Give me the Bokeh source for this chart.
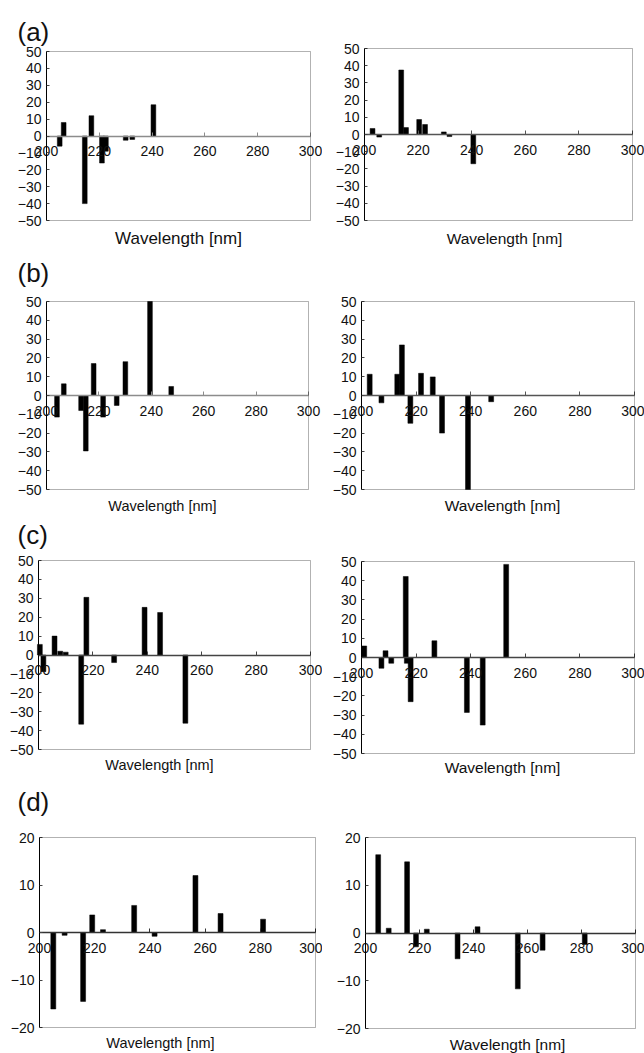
from bokeh.plotting import figure
from bokeh.layouts import column, row
from bokeh.models import LinearAxis, FixedTicker, Range1d, BoxAnnotation, Label
from bokeh.embed import file_html
from bokeh.resources import INLINE

# ---------------- data ----------------
x_ticks = [200, 220, 240, 260, 280, 300]
y_ticks_50 = [-50, -40, -30, -20, -10, 0, 10, 20, 30, 40, 50]
y_ticks_20 = [-20, -10, 0, 10, 20]
x_label = "Wavelength [nm]"
panel_labels = ["(a)", "(b)", "(c)", "(d)"]

wl_a1 = [205, 206.5, 214.5, 217, 221, 222.5, 230, 232.5, 240.5]
cd_a1 = [-6, 8, -40, 12, -16, -9, -2.5, -2, 18.5]
wl_a2 = [203, 205.5, 213.7, 215.5, 220.4, 222.6, 229.6, 231.7, 240.6]
cd_a2 = [3.5, -1.5, 37.5, 4, 8.7, 5.8, 1.5, -1.2, -17]

wl_b1 = [204, 206.6, 213.2, 215, 218, 221.6, 226.8, 230.1, 239.5, 247.6]
cd_b1 = [-11.5, 6.2, -8, -29.5, 17, -11.5, -5.3, 18, 50, 4.8]
wl_b2 = [203, 207.3, 213.1, 214.8, 217.9, 221.8, 226.1, 229.5, 239, 247.5]
cd_b2 = [11.3, -3.9, 11.3, 26.9, -14.8, 11.8, 9.9, -20, -50, -3.3]

wl_c1 = [200.5, 201.8, 205.9, 208, 210, 215.7, 217.6, 227.8, 239, 244.7, 254]
cd_c1 = [5.6, -8.8, 10, 2, 1.5, -36.6, 30.5, -4, 25.2, 22.5, -36.1]
wl_c2 = [201, 207.3, 208.8, 210.9, 216.2, 216.6, 218, 226.7, 238.6, 244.4, 253]
cd_c2 = [6, -5.6, 3.5, -3, 42.2, -3, -23, 8.7, -28.6, -35.2, 48.5]

wl_d1 = [205, 209.1, 215.8, 219.1, 223, 234.3, 241.7, 256.5, 265.6, 281]
cd_d1 = [-16.1, -0.6, -14.5, 3.7, 0.6, 5.7, -0.8, 12, 4, 2.8]
wl_d2 = [204.7, 208.6, 215.4, 218.7, 222.7, 234.1, 241.5, 256.4, 265.6, 281.2]
cd_d2 = [16.4, 1, 14.9, -2.9, 0.8, -5.4, 1.3, -11.7, -3.6, -2.4]

FONT = "Liberation Sans"


def panel(wl, cd, W, H, L, R, T, B, ylim, yticks, label=None, label_dy=20,
          xl_dy=18, xl_dx=0, xl_size="17px", zero_color="#888888"):
    # The frame covers the whole figure; L, R, T, B locate the axes box
    # (x 200..300, y ylim) in pixels, so nothing around the box is clipped.
    xmin, xmax = x_ticks[0], x_ticks[-1]
    ppn = (R - L) / float(xmax - xmin)
    ppu = (B - T) / float(ylim[1] - ylim[0])
    x_range = Range1d(xmin - L / ppn, xmax + (W - R) / ppn)
    y_range = Range1d(ylim[0] - (H - B) / ppu, ylim[1] + T / ppu)

    p = figure(width=W, height=H, x_range=x_range, y_range=y_range,
               output_backend="svg", toolbar_location=None,
               x_axis_location=None, y_axis_location=None,
               min_border_left=0, min_border_right=0,
               min_border_top=0, min_border_bottom=0)
    p.xgrid.grid_line_color = None
    p.ygrid.grid_line_color = None
    p.outline_line_color = None
    p.background_fill_color = "white"
    p.border_fill_color = "white"

    p.vbar(x=wl, top=cd, bottom=0, width=1.8,
           fill_color="black", line_color="black", line_width=0.5)

    # axes box
    p.add_layout(BoxAnnotation(left=xmin, right=xmax, bottom=ylim[0], top=ylim[1],
                               fill_color=None, fill_alpha=0,
                               line_color="black", line_width=1))

    # x axis drawn along y = 0
    xa = LinearAxis(fixed_location=0, ticker=FixedTicker(ticks=x_ticks),
                    bounds=(xmin, xmax))
    xa.axis_line_color = zero_color
    xa.axis_line_width = 1.3
    xa.major_tick_in = 4
    xa.major_tick_out = 0
    xa.major_tick_line_color = zero_color
    xa.minor_tick_line_color = None
    xa.major_label_standoff = 10
    xa.major_label_text_font = FONT
    xa.major_label_text_font_size = "14px"
    xa.major_label_text_color = "#111111"
    p.add_layout(xa, "below")

    # y axis along the left edge of the box
    ya = LinearAxis(fixed_location=xmin, ticker=FixedTicker(ticks=yticks),
                    bounds=ylim)
    ya.axis_line_color = "black"
    ya.major_tick_in = 3
    ya.major_tick_out = 0
    ya.major_tick_line_color = "#444444"
    ya.minor_tick_line_color = None
    ya.major_label_standoff = 5
    ya.major_label_text_font = FONT
    ya.major_label_text_font_size = "14px"
    ya.major_label_text_color = "#111111"
    p.add_layout(ya, "left")

    # x axis title below the box
    p.add_layout(Label(x=(xmin + xmax) / 2.0, y=ylim[0], x_offset=xl_dx, y_offset=-xl_dy,
                       text=x_label, text_align="center", text_baseline="middle",
                       text_font=FONT, text_font_size=xl_size,
                       text_color="#111111"))

    if label:
        p.add_layout(Label(x=xmin, y=ylim[1], x_offset=17 - L, y_offset=label_dy,
                           text=label, text_align="left", text_baseline="middle",
                           text_font=FONT, text_font_size="26px",
                           text_color="#111111"))
    return p


a1 = panel(wl_a1, cd_a1, 322, 250, 46, 310, 51, 220, (-50, 50), y_ticks_50,
           panel_labels[0], 20, 18, 0, "17px", "#8c8c8c")
a2 = panel(wl_a2, cd_a2, 322, 250, 42, 310, 48, 220, (-50, 50), y_ticks_50,
           None, 0, 18, 6, "15.5px", "#555555")
b1 = panel(wl_b1, cd_b1, 322, 265, 46, 308, 51, 239, (-50, 50), y_ticks_50,
           panel_labels[1], 28.5, 16, -15, "14.5px", "#8c8c8c")
b2 = panel(wl_b2, cd_b2, 322, 265, 39, 312, 51, 239, (-50, 50), y_ticks_50,
           None, 0, 16, 4.5, "15.5px", "#555555")
c1 = panel(wl_c1, cd_c1, 322, 265, 38, 310, 45, 234, (-50, 50), y_ticks_50,
           panel_labels[2], 26, 15, -15, "14.5px", "#444444")
c2 = panel(wl_c2, cd_c2, 322, 265, 39, 312, 46, 238, (-50, 50), y_ticks_50,
           None, 0, 14, 4.5, "15.5px", "#444444")
d1 = panel(wl_d1, cd_d1, 322, 273, 39, 315, 57, 247, (-20, 20), y_ticks_20,
           panel_labels[3], 36, 15, -17, "14.5px", "#333333")
d2 = panel(wl_d2, cd_d2, 322, 273, 43, 313, 57, 248, (-20, 20), y_ticks_20,
           None, 0, 15.5, 7, "15.5px", "#333333")

layout = column(row(a1, a2), row(b1, b2), row(c1, c2), row(d1, d2))
open("out.html", "w").write(file_html(layout, INLINE))
